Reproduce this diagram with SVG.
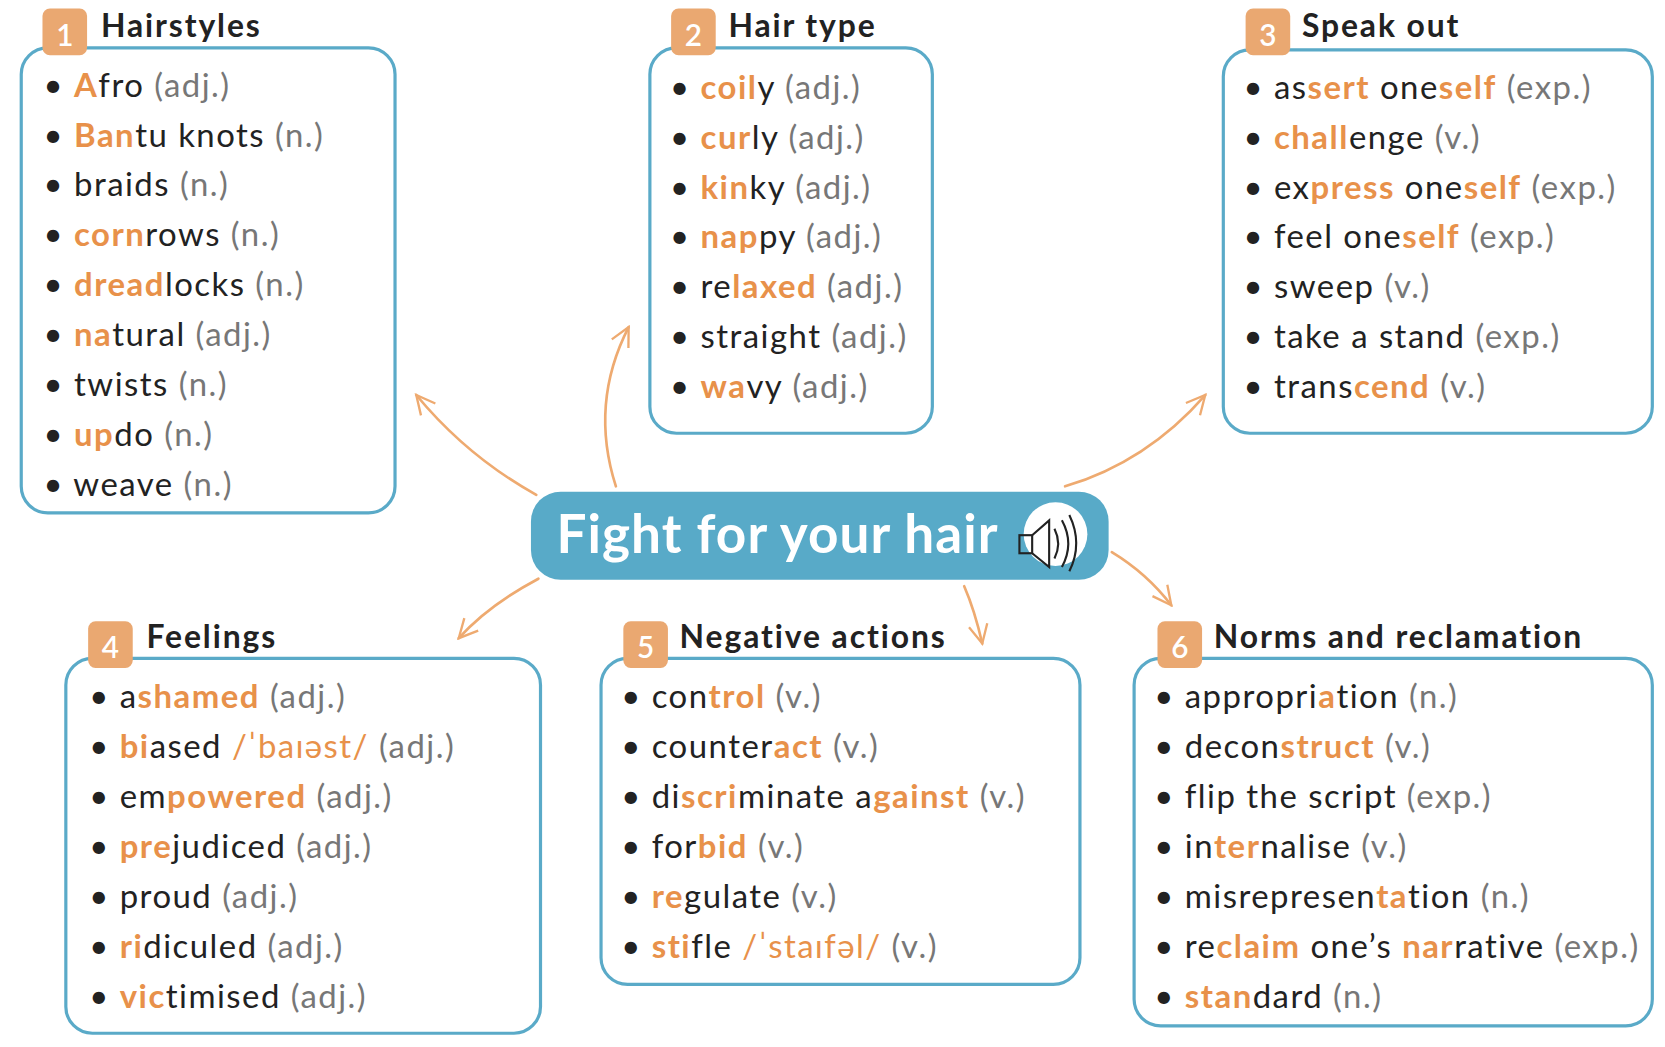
<svg xmlns="http://www.w3.org/2000/svg" width="1665" height="1047" viewBox="0 0 1665 1047">
<defs>
<style>
.box{fill:#fff;stroke:#5aaac8;stroke-width:3}
.badge{fill:#eaa871}
.num{font:600 28px Lato,"Noto Sans",sans-serif;fill:#fff;text-anchor:middle}
.ttl{font:bold 30px Lato,"Noto Sans",sans-serif;fill:#222;letter-spacing:1.8px}
.it{font:31px Lato,"Noto Sans",sans-serif;fill:#222;letter-spacing:1.4px}
.o{fill:#e8914a;font-weight:bold}
.g{fill:#777}
.ph{fill:#e8914a}
.ar{fill:none;stroke:#eeaa70;stroke-width:2.5;stroke-linecap:round}
</style>
<marker id="ah" viewBox="0 0 20 20" refX="18" refY="10" markerWidth="22" markerHeight="22" markerUnits="userSpaceOnUse" orient="auto"><path d="M2,2 L18,10 L2,18" fill="none" stroke="#eeaa70" stroke-width="2"/></marker>
</defs>
<rect width="1665" height="1047" fill="#fff"/>
<g transform="scale(1.0619)">
<g id="connectors">
<path class="ar" marker-end="url(#ah)" d="M505,466 Q440,430 392,372"/>
<path class="ar" marker-end="url(#ah)" d="M580,458 Q555,380 592,308"/>
<path class="ar" marker-end="url(#ah)" d="M1003,458 Q1080,435 1135,372"/>
<path class="ar" marker-end="url(#ah)" d="M507,545 Q460,570 432,601"/>
<path class="ar" marker-end="url(#ah)" d="M908,552 Q918,575 925,606"/>
<path class="ar" marker-end="url(#ah)" d="M1047,520 Q1080,540 1103,570"/>
</g>
<g id="center">
<rect x="500" y="463" width="544" height="83" rx="28" fill="#58aac8"/>
<text x="524" y="521" style="font:bold 50px Lato,'Noto Sans',sans-serif;fill:#fff;letter-spacing:1px">Fight for your hair</text>
<circle cx="994" cy="503" r="30" fill="#fff"/>
<g fill="none" stroke="#222" stroke-width="2">
<rect x="960" y="504" width="12" height="17"/>
<path d="M972,504 L988,490 L988,534 L972,521"/>
<path d="M993,498 Q1000,512 993,526"/>
<path d="M1000,490 Q1012,512 1000,534"/>
<path d="M1007,485 Q1020,512 1007,538"/>
</g>
</g>
<g id="n1">
<rect class="box" x="20" y="45" width="352" height="438" rx="25"/>
<rect class="badge" x="40" y="8" width="42" height="44" rx="7"/><text class="num" x="61" y="43">1</text>
<text class="ttl" x="95" y="35">Hairstyles</text>
<text class="it" x="41" y="91">• <tspan class="o">A</tspan>fro <tspan class="g">(adj.)</tspan></text>
<text class="it" x="41" y="138">• <tspan class="o">Ban</tspan>tu knots <tspan class="g">(n.)</tspan></text>
<text class="it" x="41" y="185">• braids <tspan class="g">(n.)</tspan></text>
<text class="it" x="41" y="232">• <tspan class="o">corn</tspan>rows <tspan class="g">(n.)</tspan></text>
<text class="it" x="41" y="279">• <tspan class="o">dread</tspan>locks <tspan class="g">(n.)</tspan></text>
<text class="it" x="41" y="326">• <tspan class="o">na</tspan>tural <tspan class="g">(adj.)</tspan></text>
<text class="it" x="41" y="373">• twists <tspan class="g">(n.)</tspan></text>
<text class="it" x="41" y="420">• <tspan class="o">up</tspan>do <tspan class="g">(n.)</tspan></text>
<text class="it" x="41" y="467">• weave <tspan class="g">(n.)</tspan></text>
</g>
<g id="n2">
<rect class="box" x="612" y="45" width="266" height="363" rx="25"/>
<rect class="badge" x="632" y="8" width="42" height="44" rx="7"/><text class="num" x="653" y="43">2</text>
<text class="ttl" x="686" y="35">Hair type</text>
<text class="it" x="631" y="93">• <tspan class="o">coil</tspan>y <tspan class="g">(adj.)</tspan></text>
<text class="it" x="631" y="140">• <tspan class="o">cur</tspan>ly <tspan class="g">(adj.)</tspan></text>
<text class="it" x="631" y="187">• <tspan class="o">kin</tspan>ky <tspan class="g">(adj.)</tspan></text>
<text class="it" x="631" y="234">• <tspan class="o">nap</tspan>py <tspan class="g">(adj.)</tspan></text>
<text class="it" x="631" y="281">• re<tspan class="o">laxed</tspan> <tspan class="g">(adj.)</tspan></text>
<text class="it" x="631" y="328">• straight <tspan class="g">(adj.)</tspan></text>
<text class="it" x="631" y="375">• <tspan class="o">wa</tspan>vy <tspan class="g">(adj.)</tspan></text>
</g>
<g id="n3">
<rect class="box" x="1152" y="47" width="404" height="361" rx="25"/>
<rect class="badge" x="1173" y="8" width="42" height="44" rx="7"/><text class="num" x="1194" y="43">3</text>
<text class="ttl" x="1226" y="35">Speak out</text>
<text class="it" x="1171" y="93">• as<tspan class="o">sert</tspan> one<tspan class="o">self</tspan> <tspan class="g">(exp.)</tspan></text>
<text class="it" x="1171" y="140">• <tspan class="o">chall</tspan>enge <tspan class="g">(v.)</tspan></text>
<text class="it" x="1171" y="187">• ex<tspan class="o">press</tspan> one<tspan class="o">self</tspan> <tspan class="g">(exp.)</tspan></text>
<text class="it" x="1171" y="234">• feel one<tspan class="o">self</tspan> <tspan class="g">(exp.)</tspan></text>
<text class="it" x="1171" y="281">• sweep <tspan class="g">(v.)</tspan></text>
<text class="it" x="1171" y="328">• take a stand <tspan class="g">(exp.)</tspan></text>
<text class="it" x="1171" y="375">• trans<tspan class="o">cend</tspan> <tspan class="g">(v.)</tspan></text>
</g>
<g id="n4">
<rect class="box" x="62" y="620" width="447" height="353" rx="25"/>
<rect class="badge" x="83" y="585" width="42" height="44" rx="7"/><text class="num" x="104" y="620">4</text>
<text class="ttl" x="138" y="610">Feelings</text>
<text class="it" x="84" y="667">• a<tspan class="o">shamed</tspan> <tspan class="g">(adj.)</tspan></text>
<text class="it" x="84" y="714">• <tspan class="o">bi</tspan>ased  <tspan class="ph">/ˈbaɪəst/</tspan>  <tspan class="g">(adj.)</tspan></text>
<text class="it" x="84" y="761">• em<tspan class="o">powered</tspan> <tspan class="g">(adj.)</tspan></text>
<text class="it" x="84" y="808">• <tspan class="o">pre</tspan>judiced <tspan class="g">(adj.)</tspan></text>
<text class="it" x="84" y="855">• proud <tspan class="g">(adj.)</tspan></text>
<text class="it" x="84" y="902">• <tspan class="o">ri</tspan>diculed <tspan class="g">(adj.)</tspan></text>
<text class="it" x="84" y="949">• <tspan class="o">vic</tspan>timised <tspan class="g">(adj.)</tspan></text>
</g>
<g id="n5">
<rect class="box" x="566" y="620" width="451" height="307" rx="25"/>
<rect class="badge" x="587" y="585" width="42" height="44" rx="7"/><text class="num" x="608" y="620">5</text>
<text class="ttl" x="640" y="610">Negative actions</text>
<text class="it" x="585" y="667">• con<tspan class="o">trol</tspan> <tspan class="g">(v.)</tspan></text>
<text class="it" x="585" y="714">• counter<tspan class="o">act</tspan> <tspan class="g">(v.)</tspan></text>
<text class="it" x="585" y="761">• di<tspan class="o">scri</tspan>minate a<tspan class="o">gainst</tspan> <tspan class="g">(v.)</tspan></text>
<text class="it" x="585" y="808">• for<tspan class="o">bid</tspan> <tspan class="g">(v.)</tspan></text>
<text class="it" x="585" y="855">• <tspan class="o">re</tspan>gulate <tspan class="g">(v.)</tspan></text>
<text class="it" x="585" y="902">• <tspan class="o">sti</tspan>fle  <tspan class="ph">/ˈstaɪfəl/</tspan>  <tspan class="g">(v.)</tspan></text>
</g>
<g id="n6">
<rect class="box" x="1068" y="620" width="488" height="346" rx="25"/>
<rect class="badge" x="1090" y="585" width="42" height="44" rx="7"/><text class="num" x="1111" y="620">6</text>
<text class="ttl" x="1143" y="610">Norms and reclamation</text>
<text class="it" x="1087" y="667">• appropri<tspan class="o">a</tspan>tion <tspan class="g">(n.)</tspan></text>
<text class="it" x="1087" y="714">• decon<tspan class="o">struct</tspan> <tspan class="g">(v.)</tspan></text>
<text class="it" x="1087" y="761">• flip the script <tspan class="g">(exp.)</tspan></text>
<text class="it" x="1087" y="808">• in<tspan class="o">ter</tspan>nalise <tspan class="g">(v.)</tspan></text>
<text class="it" x="1087" y="855">• misrepresen<tspan class="o">ta</tspan>tion <tspan class="g">(n.)</tspan></text>
<text class="it" x="1087" y="902">• re<tspan class="o">claim</tspan> one’s <tspan class="o">nar</tspan>rative <tspan class="g">(exp.)</tspan></text>
<text class="it" x="1087" y="949">• <tspan class="o">stan</tspan>dard <tspan class="g">(n.)</tspan></text>
</g>
</g>
</svg>
